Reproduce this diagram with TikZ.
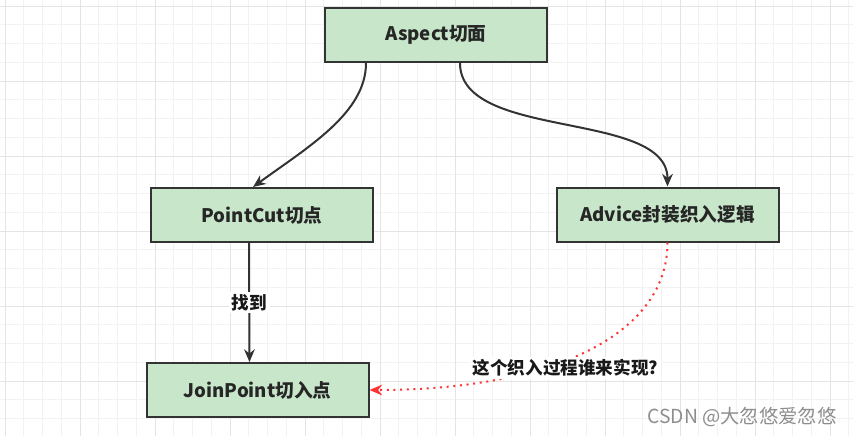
\documentclass[tikz,border=0pt]{standalone}
\usepackage{fontspec}
\setmainfont{Noto Sans CJK SC}
\usetikzlibrary{arrows.meta}
\definecolor{boxgreen}{HTML}{C8E6C9}
\definecolor{edgegray}{HTML}{333333}
\definecolor{dotred}{HTML}{FF3333}
\definecolor{gridminor}{HTML}{F2F2F2}
\definecolor{gridmajor}{HTML}{E4E4E4}
\definecolor{markgray}{HTML}{8E8E8E}

\begin{document}
\begin{tikzpicture}[x=0.75pt,y=-0.75pt,
    main node/.style={rectangle,draw=edgegray,line width=1.5pt,fill=boxgreen,minimum width=166.5pt,minimum height=40.5pt,inner sep=0pt,text=black!85,font=\bfseries\fontsize{14}{17}\selectfont},
    edge label/.style={fill=white,inner sep=2pt,text=black!90,font=\bfseries\fontsize{13.2}{16}\selectfont},
    flow/.style={draw=edgegray,line width=1.5pt,-{Stealth[length=9.5pt,width=8pt]}},
    weave/.style={draw=dotred,line width=1.5pt,dash pattern=on 1.5pt off 3.5pt,-{Stealth[length=9.5pt,width=8pt]}}]
    \useasboundingbox[fill=white] (0,0) rectangle (853,436);
    \begin{scope}
        \clip (0,0) rectangle (853,436);
        \foreach \i in {0,...,45}
            \draw[gridminor,line width=0.75pt] ({5+18.75*\i},0) -- ({5+18.75*\i},436);
        \foreach \i in {0,...,23}
            \draw[gridminor,line width=0.75pt] (0,{6+18.75*\i}) -- (853,{6+18.75*\i});
        \foreach \i in {0,...,11}
            \draw[gridmajor,line width=0.75pt] ({5+75*\i},0) -- ({5+75*\i},436);
        \foreach \i in {0,...,5}
            \draw[gridmajor,line width=0.75pt] (0,{6+75*\i}) -- (853,{6+75*\i});
    \end{scope}

    \node[main node] at (436,35) (aspect) {Aspect切面};
    \node[main node] at (262,215) (pointcut) {PointCut切点};
    \node[main node] at (667.5,214.5) (advice) {Advice封装织入逻辑};
    \node[main node] at (257.5,390) (joinpoint) {JoinPoint切入点};
    \node[text=markgray,font=\fontsize{14.5}{17}\selectfont] at (742,417) (mark) {CSDN @大忽悠爱忽悠};

    \draw[flow] ([xshift=-52.5pt]aspect.south) .. controls +(0,50) and +(55,-40) .. ([xshift=-6.75pt]pointcut.north);
    \draw[flow] ([xshift=18pt]aspect.south) .. controls +(0,78) and +(0,-77) .. (advice.north);
    \draw[flow] ([xshift=-9.75pt]pointcut.south) -- node[edge label] {找到} ([xshift=-6pt]joinpoint.north);
    \draw[weave] (advice.south) .. controls +(0,93) and +(181,0) .. (joinpoint.east)
        node[edge label,pos=0.56,xshift=-1pt,yshift=-6pt] {这个织入过程谁来实现?};
\end{tikzpicture}
\end{document}
